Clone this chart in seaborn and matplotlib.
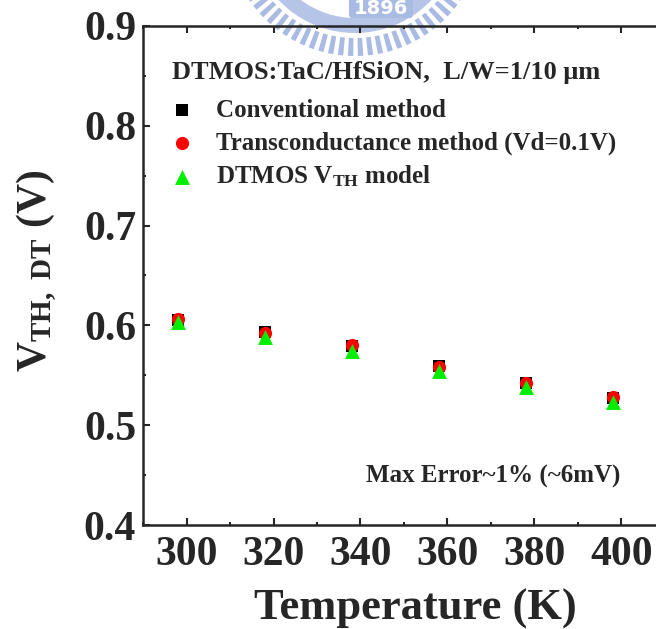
import numpy as np
import pandas as pd
import matplotlib
matplotlib.use("Agg")
import matplotlib.pyplot as plt
import seaborn as sns
from matplotlib.patches import Wedge, FancyBboxPatch
from matplotlib.ticker import MultipleLocator

# Threshold voltage of the DTMOS device vs. temperature
temperature = [298, 318, 338, 358, 378, 398]
vth_conventional = [0.605, 0.593, 0.579, 0.559, 0.542, 0.527]
vth_transconductance = [0.606, 0.592, 0.580, 0.558, 0.542, 0.528]
vth_model = [0.603, 0.588, 0.574, 0.554, 0.538, 0.523]

series_labels = [
    "Conventional method",
    "Transconductance method (Vd=0.1V)",
    r"DTMOS V$_{\mathrm{TH}}$ model",
]
x_ticks = [300, 320, 340, 360, 380, 400]
y_ticks = [0.4, 0.5, 0.6, 0.7, 0.8, 0.9]

df = pd.DataFrame({
    "T": temperature * 3,
    "Vth": vth_conventional + vth_transconductance + vth_model,
    "method": [series_labels[0]] * 6 + [series_labels[1]] * 6 + [series_labels[2]] * 6,
})

sns.set_theme(style="ticks")
plt.rcParams["font.family"] = ["Liberation Serif", "DejaVu Serif"]
plt.rcParams["font.weight"] = "bold"
plt.rcParams["mathtext.fontset"] = "custom"
plt.rcParams["mathtext.rm"] = "Liberation Serif:bold"
plt.rcParams["mathtext.it"] = "Liberation Serif:bold"
plt.rcParams["mathtext.bf"] = "Liberation Serif:bold"

W, H = 656, 629
fig = plt.figure(figsize=(W / 100, H / 100), dpi=100)
fig.patch.set_facecolor("white")

# faint emblem behind the plot, drawn in pixel coordinates (y grows downward)
bg = fig.add_axes([0, 0, 1, 1], zorder=0)
bg.set_xlim(0, W)
bg.set_ylim(H, 0)
bg.axis("off")
emb = "#aabbe3"
cx, cy = 355, -72
for ang in np.arange(20, 161, 4.5):
    bg.add_patch(Wedge((cx, cy), 128, ang - 1.2, ang + 1.2, width=18,
                       facecolor=emb, edgecolor="none"))
bg.add_patch(Wedge((cx, cy), 105, 20, 160, width=15,
                   facecolor=emb, edgecolor="none", alpha=0.85))
bg.add_patch(FancyBboxPatch((349, -6), 64, 24, boxstyle="round,pad=0,rounding_size=3",
                            facecolor=emb, edgecolor="none"))
bg.text(381, 8, "1896", color="white", fontsize=14, ha="center", va="center",
        family="DejaVu Sans", weight="bold")

ax = fig.add_axes([143 / W, 104 / H, 522 / W, 499 / H], zorder=1)
ax.patch.set_alpha(0)

styles = [("s", "black", 75), ("o", "red", 90), ("^", "#00ee00", 115)]
for lab, (mk, col, size) in zip(series_labels, styles):
    sns.scatterplot(data=df[df["method"] == lab], x="T", y="Vth", marker=mk,
                    color=col, s=size, linewidth=0, label=lab, ax=ax, zorder=3)

ax.set_xlim(290, 410)
ax.set_ylim(0.4, 0.9)
ax.set_xticks(x_ticks)
ax.set_yticks(y_ticks)
ax.set_yticklabels([f"{v:.1f}" for v in y_ticks])
ax.xaxis.set_minor_locator(MultipleLocator(10))
ax.yaxis.set_minor_locator(MultipleLocator(0.05))
ax.tick_params(which="both", direction="in", top=True, right=True, width=1.5,
               labelsize=30)
ax.tick_params(axis="x", pad=8)
ax.tick_params(axis="y", pad=5)
ax.tick_params(which="major", length=5)
ax.tick_params(which="minor", length=2.5)
for sp in ax.spines.values():
    sp.set_linewidth(1.8)

ax.set_xlabel("Temperature (K)", fontsize=32, fontweight="bold")
ax.xaxis.set_label_coords(0.521, -0.127)
ax.set_ylabel(r"V$_{\mathrm{TH,\ DT}}$ (V)", fontsize=30, fontweight="bold")
ax.yaxis.set_label_coords(-0.16, 0.51)

ax.text(0.0556, 0.907, "DTMOS:TaC/HfSiON,  L/W=1/10 \u03bcm", transform=ax.transAxes,
        ha="left", va="center", fontsize=19, fontweight="bold")

leg = ax.legend(loc="upper left", bbox_to_anchor=(0.0556, 0.854), frameon=False,
                fontsize=18, handlelength=0.78, handletextpad=0.98,
                labelspacing=0.37, borderpad=0, borderaxespad=0)
for t in leg.get_texts():
    t.set_fontweight("bold")

ax.text(0.914, 0.098, "Max Error~1% (~6mV)", transform=ax.transAxes,
        ha="right", va="center", fontsize=18, fontweight="bold")

fig.savefig("out.png", dpi=100)
